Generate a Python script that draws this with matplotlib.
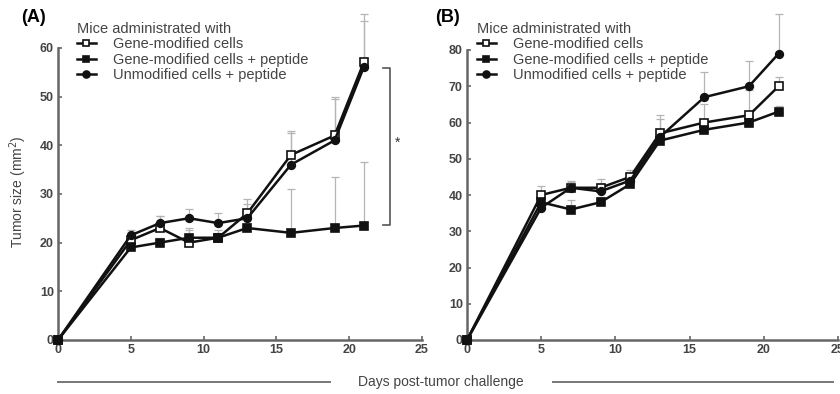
import matplotlib
matplotlib.use("Agg")
import matplotlib.pyplot as plt
from matplotlib.lines import Line2D

plt.rcParams['font.family'] = ['Liberation Sans', 'DejaVu Sans']

days = [0, 5, 7, 9, 11, 13, 16, 19, 21]
labels = ["Gene-modified cells", "Gene-modified cells + peptide", "Unmodified cells + peptide"]

# panel A: means and upper ends of the error bars
a_gene = [0, 20.5, 23, 20, 21, 26, 38, 42, 57]
a_gene_pep = [0, 19, 20, 21, 21, 23, 22, 23, 23.5]
a_unmod = [0, 21.5, 24, 25, 24, 25, 36, 41, 56]
a_gene_hi = [0, 22.5, 25.5, 23, 22.5, 29, 43, 50, 67]
a_gene_pep_hi = [0, 20, 21, 22.5, 22, 24, 31, 33.5, 36.5]
a_unmod_hi = [0, 22, 25.5, 27, 26, 28, 42.5, 49.5, 65.5]

# panel B
b_gene = [0, 40, 42, 42, 45, 57, 60, 62, 70]
b_gene_pep = [0, 38, 36, 38, 43, 55, 58, 60, 63]
b_unmod = [0, 36.5, 42, 41, 44, 56, 67, 70, 79]
b_gene_hi = [0, 42.5, 44, 44.5, 47, 61, 65, 69, 72.5]
b_gene_pep_hi = [0, 39.5, 38.5, 39.5, 44.5, 56.5, 59.5, 61.5, 64.5]
b_unmod_hi = [0, 38, 43.5, 43, 46, 62, 74, 77, 90]

styles = [dict(marker='s', mfc='white', mec='#111111'),
          dict(marker='s', mfc='#111111', mec='#111111'),
          dict(marker='o', mfc='#111111', mec='#111111')]

AXC = '#666666'
TXT = '#444444'

fig = plt.figure(figsize=(8.4, 3.94), dpi=100)


def panel(rect, ymax_axis, ytop, series, his, leg_x):
    ax = fig.add_axes(rect)
    for vals, hi in zip(series, his):
        err = [[0] * len(vals), [h - v for h, v in zip(hi, vals)]]
        ax.errorbar(days, vals, yerr=err, fmt='none', ecolor='#b5b5b5',
                    elinewidth=0.9, capsize=3, capthick=0.9, zorder=1, clip_on=False)
    for vals, st in zip(series, styles):
        ax.plot(days, vals, color='#111111', lw=1.8, ms=5.5, mew=1.2,
                zorder=3, clip_on=False, **st)
    ax.set_xlim(0, 25)
    ax.set_ylim(0, ytop)
    ax.set_xticks([0, 5, 10, 15, 20, 25])
    ax.set_yticks(range(0, ymax_axis + 1, 10))
    for s in ['top', 'right']:
        ax.spines[s].set_visible(False)
    for s in ['left', 'bottom']:
        ax.spines[s].set_color(AXC)
        ax.spines[s].set_linewidth(1.8)
    ax.spines['left'].set_bounds(0, ymax_axis)
    ax.tick_params(direction='in', length=3, width=1.2, color=AXC,
                   labelsize=9, labelcolor=TXT, pad=3)
    for t in ax.get_xticklabels() + ax.get_yticklabels():
        t.set_fontweight('bold')
    ax.patch.set_alpha(0)
    handles = [Line2D([], [], color='#111111', lw=1.8, ms=5, mew=1.2, **st) for st in styles]
    leg = ax.legend(handles, labels, title="Mice administrated with",
                    loc='upper left', bbox_to_anchor=(leg_x, 1 - 22 / 394),
                    bbox_transform=fig.transFigure, frameon=False, fontsize=10.5,
                    title_fontsize=10.5, handlelength=1.3, handletextpad=1.2,
                    labelspacing=0.1, borderpad=0, borderaxespad=0, alignment='left',
                    labelcolor=TXT)
    leg.get_title().set_color(TXT)
    return ax


ax_a = panel([58 / 840, 54 / 394, 364 / 840, 340 / 394], 60, 340 / 4.87,
             [a_gene, a_gene_pep, a_unmod], [a_gene_hi, a_gene_pep_hi, a_unmod_hi], 77 / 840)
ax_b = panel([467 / 840, 54 / 394, 371 / 840, 340 / 394], 80, 340 / 3.625,
             [b_gene, b_gene_pep, b_unmod], [b_gene_hi, b_gene_pep_hi, b_unmod_hi], 477 / 840)

# significance bracket on panel A
ax_a.plot([22.3, 22.8, 22.8, 22.3], [55.9, 55.9, 23.6, 23.6], color='#555555',
          lw=1.2, clip_on=False)
ax_a.text(23.3, 40.5, '*', fontsize=10, color='#333333', ha='center', va='center')

fig.text(33 / 840, 1 - 18 / 394, '(A)', fontsize=13, fontweight='bold', ha='center', va='center')
fig.text(447 / 840, 1 - 18 / 394, '(B)', fontsize=13, fontweight='bold', ha='center', va='center')
fig.text(18 / 840, 1 - 192 / 394, 'Tumor size (mm$^2$)', rotation=90, fontsize=10,
         color=TXT, ha='center', va='center')
fig.text(441 / 840, 1 - 382 / 394, 'Days post-tumor challenge', fontsize=10,
         color=TXT, ha='center', va='center')
fig.add_artist(Line2D([58 / 840, 330 / 840], [1 - 382 / 394] * 2, color='#777777', lw=1.4))
fig.add_artist(Line2D([553 / 840, 833 / 840], [1 - 382 / 394] * 2, color='#777777', lw=1.4))

fig.savefig('out.png', dpi=100)
